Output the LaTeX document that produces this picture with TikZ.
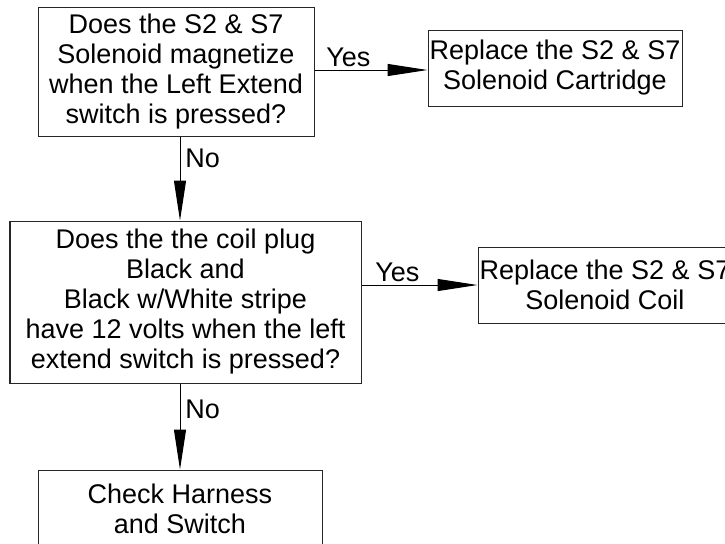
\documentclass[tikz,border=0pt]{standalone}
\usepackage{fontspec}
\setmainfont{Liberation Sans}
\usetikzlibrary{arrows.meta}
\begin{document}
\begin{tikzpicture}[x=0.5pt,y=-0.5pt,
  box/.style={draw=black!85,line width=0.5pt,align=center,inner sep=0pt,font=\fontsize{13.5}{15}\selectfont},
  flow/.style={draw=black,line width=0.5pt,-{Triangle[length=20pt,width=6pt]}},
  answer/.style={font=\fontsize{13.5}{15}\selectfont,inner sep=0pt}]
\useasboundingbox (0,0) rectangle (725,543);
\node[box,minimum width=138pt,minimum height=64.5pt] (magnetize) at (176,71.5)
  {Does the S2 \& S7\\Solenoid magnetize\\when the Left Extend\\switch is pressed?};
\node[box,minimum width=127pt,minimum height=38pt] (cartridge) at (555,68)
  {Replace the S2 \& S7\\Solenoid Cartridge};
\node[box,minimum width=175.5pt,minimum height=81pt] (volts) at (185.5,302)
  {Does the the coil plug\\Black and\\Black w/White stripe\\have 12 volts when the left\\extend switch is pressed?};
\node[box,minimum width=127pt,minimum height=38pt] (coil) at (605,285)
  {Replace the S2 \& S7\\Solenoid Coil};
\node[box,minimum width=142pt,minimum height=39pt] (harness) at (180,509)
  {Check Harness\\and Switch};
\draw[flow] (magnetize.east |- 0,70) -- (cartridge.west |- 0,70);
\draw[flow] (volts.east |- coil.west) -- (coil.west);
\draw[flow] (magnetize.south -| harness.north) -- (volts.north -| harness.north);
\draw[flow] (volts.south -| harness.north) -- (harness.north);
\node[answer,anchor=south west] (yes1) at (326,67) {Yes};
\node[answer,anchor=south west] (yes2) at (375,282) {Yes};
\node[answer,anchor=north west] (no1) at (185,149) {No};
\node[answer,anchor=north west] (no2) at (185,400) {No};
\end{tikzpicture}
\end{document}
